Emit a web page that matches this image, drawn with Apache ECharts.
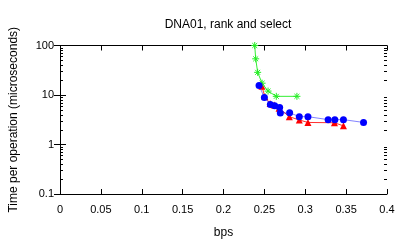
<!DOCTYPE html>
<html><head><meta charset="utf-8">
<script src="https://cdn.jsdelivr.net/npm/echarts@6/dist/echarts.min.js"></script>
<style>html,body{margin:0;padding:0;background:#fff}#c{width:407px;height:244px}</style>
</head><body><div id="c"></div>
<script>
const titleText = "DNA01, rank and select";
const xName = "bps";
const yName = "Time per operation (microseconds)";
const xTicks = [0, 0.05, 0.1, 0.15, 0.2, 0.25, 0.3, 0.35, 0.4];
const yTicks = [0.1, 1, 10, 100];
const minorMultipliers = [2, 3, 4, 5, 6, 7, 8, 9];

const redX = [0.247, 0.2505, 0.257, 0.262, 0.268, 0.2805, 0.2927, 0.3033, 0.3357, 0.3467];
const redY = [15.0, 9.3, 6.7, 6.3, 5.4, 3.65, 3.13, 2.79, 2.75, 2.38];

const greenX = [0.2382, 0.2394, 0.2418, 0.2472, 0.2545, 0.2646, 0.2898];
const greenY = [100, 53.8, 28.7, 17.3, 12.0, 9.4, 9.4];

const blueX = [0.2435, 0.25, 0.2573, 0.2626, 0.2687, 0.2695, 0.2809, 0.2927, 0.3033, 0.328, 0.3362, 0.3467, 0.3713];
const blueY = [15.6, 8.87, 6.44, 6.09, 5.61, 4.32, 4.38, 3.65, 3.65, 3.18, 3.18, 3.18, 2.79];

const pair = (xs, ys) => xs.map((x, i) => [x, ys[i]]);
const FONT = "Liberation Sans";
const starPath = 'path://M0,-10L0,10M-10,0L10,0M-7,-7L7,7M-7,7L7,-7';

// minor tick values on the log axis (axis decoration)
const minorVals = [];
yTicks.slice(0, -1).forEach(d => minorMultipliers.forEach(m => minorVals.push([xTicks[0], +(d * m).toPrecision(3)])));
const xMin = xTicks[0], xMax = xTicks[xTicks.length - 1];

const chart = echarts.init(document.getElementById('c'), null, {renderer: 'canvas'});
const axisLineStyle = {color: '#000', width: 1};
const baseX = {type: 'value', min: xMin, max: xMax, interval: 0.05, splitLine: {show: false}};
const baseY = {type: 'log', logBase: 10, min: yTicks[0], max: yTicks[yTicks.length - 1], splitLine: {show: false}};
chart.setOption({
  animation: false,
  backgroundColor: '#fff',
  textStyle: {fontFamily: FONT},
  title: {text: titleText, left: 223, top: 14, textAlign: 'center',
    textStyle: {fontFamily: FONT, fontSize: 12, fontWeight: 'normal', color: '#000'}},
  grid: {left: 59, right: 20, top: 45.5, bottom: 48, containLabel: false},
  xAxis: [
    Object.assign({}, baseX, {
      position: 'bottom', name: xName, nameLocation: 'middle', nameGap: 33,
      nameTextStyle: {fontFamily: FONT, fontSize: 12, color: '#000'},
      axisLine: {lineStyle: axisLineStyle},
      axisTick: {inside: true, length: 5, lineStyle: {color: '#000'}},
      axisLabel: {color: '#000', fontSize: 11, fontFamily: FONT, margin: 10,
        formatter: v => String(+v.toFixed(2))}
    }),
    Object.assign({}, baseX, {
      position: 'top',
      axisLine: {lineStyle: axisLineStyle},
      axisTick: {inside: true, length: 5, lineStyle: {color: '#000'}},
      axisLabel: {show: false}
    })
  ],
  yAxis: [
    Object.assign({}, baseY, {
      position: 'left', name: yName, nameLocation: 'middle', nameGap: 40,
      nameTextStyle: {fontFamily: FONT, fontSize: 12, color: '#000'},
      axisLine: {lineStyle: axisLineStyle},
      axisTick: {inside: true, length: 6, lineStyle: {color: '#000'}},
      axisLabel: {color: '#000', fontSize: 11, fontFamily: FONT, margin: 6,
        formatter: v => String(v)}
    }),
    Object.assign({}, baseY, {
      position: 'right',
      axisLine: {lineStyle: axisLineStyle},
      axisTick: {inside: true, length: 6, lineStyle: {color: '#000'}},
      axisLabel: {show: false}
    })
  ],
  series: [
    {type: 'custom', data: minorVals, silent: true, clip: false, z: 1,
      renderItem: (params, api) => {
        const v = api.value(1);
        const pl = api.coord([xMin, v]);
        const pr = api.coord([xMax, v]);
        const st = {stroke: '#000', lineWidth: 1};
        const yy = Math.round(pl[1]) + 0.5;
        return {type: 'group', children: [
          {type: 'line', shape: {x1: pl[0], y1: yy, x2: pl[0] + 3, y2: yy}, style: st},
          {type: 'line', shape: {x1: pr[0] - 3, y1: yy, x2: pr[0], y2: yy}, style: st}
        ]};
      }},
    {type: 'line', data: pair(redX, redY), symbol: 'triangle', symbolSize: 7,
      lineStyle: {color: '#ff3030', width: 1}, itemStyle: {color: '#ff0000'}, z: 2},
    {type: 'line', data: pair(greenX, greenY), symbol: starPath, symbolSize: 7,
      lineStyle: {color: '#33ee33', width: 1},
      itemStyle: {color: 'none', borderColor: '#22ee22', borderWidth: 1}, z: 3},
    {type: 'line', data: pair(blueX, blueY), symbol: 'circle', symbolSize: 7,
      lineStyle: {color: '#3030ff', width: 1, opacity: 0.6}, itemStyle: {color: '#0000ff'}, z: 4}
  ]
});
</script></body></html>
